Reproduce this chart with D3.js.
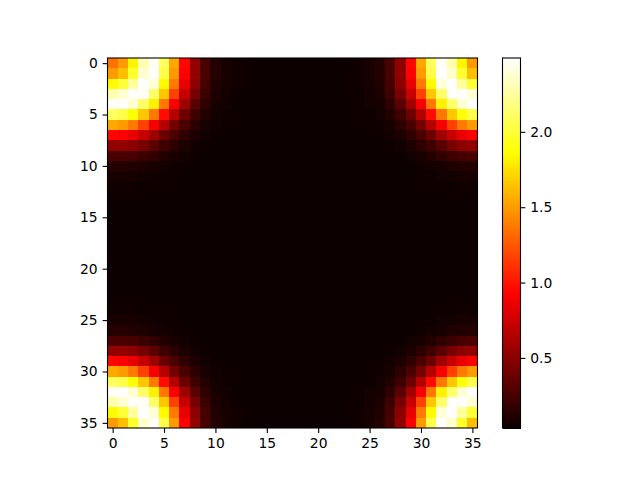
<!DOCTYPE html>
<html><head><meta charset="utf-8">
<script src="https://cdn.jsdelivr.net/npm/d3@7/dist/d3.min.js"></script>
<style>html,body{margin:0;padding:0;background:#fff}svg{display:block}
text{font-family:"DejaVu Sans",sans-serif;font-size:13.89px;fill:#000}</style>
</head><body><svg id="c" width="640" height="480"></svg>
<script>
// One quadrant of the periodic symmetric matrix (rows 0-18, columns 0-18)
const quadrant = [
[1.35,1.50,1.83,2.30,2.47,2.10,1.55,0.95,0.53,0.27,0.13,0.085,0.055,0.045,0.04,0.037,0.037,0.037,0.037],
[1.50,1.63,1.98,2.37,2.48,2.05,1.50,0.93,0.53,0.27,0.13,0.085,0.055,0.045,0.04,0.037,0.037,0.037,0.037],
[1.85,2.00,2.25,2.49,2.40,1.85,1.38,0.85,0.51,0.25,0.12,0.08,0.055,0.045,0.04,0.037,0.037,0.037,0.037],
[2.30,2.38,2.48,2.47,2.12,1.66,1.17,0.72,0.43,0.22,0.11,0.07,0.05,0.045,0.04,0.037,0.037,0.037,0.037],
[2.47,2.48,2.38,2.12,1.82,1.37,0.90,0.58,0.33,0.17,0.085,0.065,0.05,0.04,0.04,0.037,0.037,0.037,0.037],
[2.10,2.05,1.88,1.66,1.37,0.97,0.66,0.39,0.23,0.12,0.07,0.05,0.045,0.04,0.037,0.037,0.037,0.037,0.037],
[1.55,1.50,1.38,1.17,0.90,0.66,0.42,0.27,0.16,0.085,0.055,0.045,0.04,0.04,0.037,0.037,0.037,0.037,0.037],
[0.95,0.93,0.85,0.72,0.58,0.39,0.27,0.17,0.10,0.065,0.05,0.04,0.04,0.037,0.037,0.037,0.037,0.037,0.037],
[0.53,0.53,0.51,0.43,0.33,0.23,0.16,0.10,0.065,0.05,0.04,0.04,0.037,0.037,0.037,0.037,0.037,0.037,0.037],
[0.27,0.27,0.25,0.22,0.17,0.12,0.085,0.065,0.05,0.04,0.04,0.037,0.037,0.037,0.037,0.037,0.037,0.037,0.037],
[0.13,0.13,0.12,0.11,0.085,0.07,0.055,0.05,0.04,0.04,0.037,0.037,0.037,0.037,0.037,0.037,0.037,0.037,0.037],
[0.085,0.085,0.08,0.07,0.065,0.05,0.045,0.04,0.04,0.037,0.037,0.037,0.037,0.037,0.037,0.037,0.037,0.037,0.037],
[0.055,0.055,0.055,0.05,0.05,0.045,0.04,0.04,0.037,0.037,0.037,0.037,0.037,0.037,0.037,0.037,0.037,0.037,0.037],
[0.045,0.045,0.045,0.045,0.04,0.04,0.04,0.037,0.037,0.037,0.037,0.037,0.037,0.037,0.037,0.037,0.037,0.037,0.037],
[0.04,0.04,0.04,0.04,0.04,0.037,0.037,0.037,0.037,0.037,0.037,0.037,0.037,0.037,0.037,0.037,0.037,0.037,0.037],
[0.037,0.037,0.037,0.037,0.037,0.037,0.037,0.037,0.037,0.037,0.037,0.037,0.037,0.037,0.037,0.037,0.037,0.037,0.037],
[0.037,0.037,0.037,0.037,0.037,0.037,0.037,0.037,0.037,0.037,0.037,0.037,0.037,0.037,0.037,0.037,0.037,0.037,0.037],
[0.037,0.037,0.037,0.037,0.037,0.037,0.037,0.037,0.037,0.037,0.037,0.037,0.037,0.037,0.037,0.037,0.037,0.037,0.037],
[0.037,0.037,0.037,0.037,0.037,0.037,0.037,0.037,0.037,0.037,0.037,0.037,0.037,0.037,0.037,0.037,0.037,0.037,0.037]
];
const axisTicks = [0,5,10,15,20,25,30,35];
const colorbarTicks = [0.5,1.0,1.5,2.0];
const valueDomain = [0.035,2.49];
const hotStops = [0,0.365,0.746,1];
const hotColors = ["#0b0000","#ff0000","#ffff00","#ffffff"];

const N = 36;
const svg = d3.select("#c");
const L=107.5,R=477.5,T=58,B=428, CL=502.5,CR=520.5;
const x = d3.scaleLinear().domain([-0.5,N-0.5]).range([L,R]);
const y = d3.scaleLinear().domain([-0.5,N-0.5]).range([T,B]);
const norm = d3.scaleLinear().domain(valueDomain).range([0,1]).clamp(true);
const hot = d3.scaleLinear().domain(hotStops).range(hotColors).interpolate(d3.interpolateRgb);
const fold = i => i <= N/2 ? i : N-i;
const cells = [];
d3.range(N).forEach(r=>d3.range(N).forEach(c=>cells.push({r,c,v:quadrant[fold(r)][fold(c)]})));

svg.append("g").selectAll("rect").data(cells).join("rect")
  .attr("x",d=>x(d.c-0.5)).attr("y",d=>y(d.r-0.5))
  .attr("width",d=>x(d.c+0.5)-x(d.c-0.5)).attr("height",d=>y(d.r+0.5)-y(d.r-0.5))
  .attr("fill",d=>hot(norm(d.v))).attr("shape-rendering","crispEdges");

const cb = d3.scaleLinear().domain(valueDomain).range([B,T]);
const levels = d3.range(256);
svg.append("g").selectAll("rect").data(levels).join("rect")
  .attr("x",CL).attr("width",CR-CL)
  .attr("y",i=>B-(i+1)*(B-T)/256).attr("height",(B-T)/256+0.5)
  .attr("fill",i=>hot((i+0.5)/256)).attr("shape-rendering","crispEdges");

function style(g){
  g.select(".domain").remove();
  g.selectAll("line").attr("stroke","#000").attr("stroke-width",1.1);
  g.selectAll("text").attr("fill","#000").style("font-size","13.89px").style("font-family",'"DejaVu Sans",sans-serif');
}
const fmt0 = d3.format("d");
svg.append("g").attr("transform",`translate(0,${B})`)
  .call(d3.axisBottom(x).tickValues(axisTicks).tickFormat(fmt0).tickSize(4.9).tickPadding(4.9)).call(style);
svg.append("g").attr("transform",`translate(${L},0)`)
  .call(d3.axisLeft(y).tickValues(axisTicks).tickFormat(fmt0).tickSize(4.9).tickPadding(4.9)).call(style);
svg.append("g").attr("transform",`translate(${CR},0)`)
  .call(d3.axisRight(cb).tickValues(colorbarTicks).tickFormat(d3.format(".1f")).tickSize(4.9).tickPadding(4.9)).call(style);

svg.append("rect").attr("x",L).attr("y",T).attr("width",R-L).attr("height",B-T)
  .attr("fill","none").attr("stroke","#000").attr("stroke-width",1.1);
svg.append("rect").attr("x",CL).attr("y",T).attr("width",CR-CL).attr("height",B-T)
  .attr("fill","none").attr("stroke","#000").attr("stroke-width",1.1);
</script></body></html>
